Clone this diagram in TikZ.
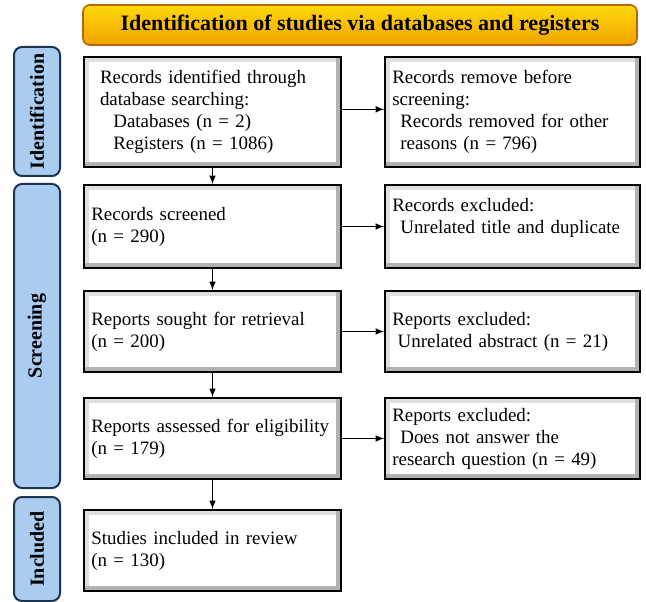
\documentclass[tikz,border=0pt]{standalone}
\usepackage{fontspec}
\setmainfont{Liberation Serif}
\usepackage{xcolor}
\usetikzlibrary{arrows}
\definecolor{barblue}{HTML}{A9CCF0}
\definecolor{barline}{HTML}{1E3550}
\definecolor{goldtop}{HTML}{FFD80A}
\definecolor{goldbot}{HTML}{F0A400}
\definecolor{goldline}{HTML}{B8650A}

\begin{document}
\begin{tikzpicture}[x=0.75pt,y=-0.75pt]
	\useasboundingbox (0,0) rectangle (646,602);
	\tikzstyle{every node}=[font=\fontsize{14.2}{16.5}\selectfont];
	\tikzstyle{box}=[draw=black,line width=1.2pt,fill=white,inner xsep=5.5pt,align=left,
		path picture={\draw[gray!25,line width=8pt] (path picture bounding box.south west)--(path picture bounding box.north west)--(path picture bounding box.north east);
			\draw[gray!60,line width=8pt] (path picture bounding box.north east)--(path picture bounding box.south east)--(path picture bounding box.south west);}];
	\tikzstyle{phase}=[draw=barline,line width=1.5pt,fill=barblue,rounded corners=6pt,rotate=90,minimum height=34.5pt,font=\fontsize{15}{16}\selectfont\bfseries];
	% title
	\node[draw=goldline,line width=1.2pt,rounded corners=5pt,top color=goldtop,bottom color=goldbot,minimum width=415.5pt,minimum height=30pt,font=\fontsize{16.5}{18}\selectfont\bfseries] (t) at (360,25) {Identification of studies via databases and registers};
	% phases
	\node[phase,minimum width=96.75pt] (p1) at (37,111.5) {Identification};
	\node[phase,minimum width=228pt] (p2) at (37,336) {Screening};
	\node[phase,minimum width=78pt] (p3) at (37,549) {Included};
	% left column
	\tikzstyle{every node}=[box,minimum width=192.75pt,text width=181.75pt,font=\fontsize{14.2}{16.5}\selectfont];
	\node[minimum height=82.5pt,inner xsep=12pt,text width=168.75pt] (l1) at (212.5,112) {Records identified through\\database searching:\\\hspace*{10pt}Databases (n = 2)\\\hspace*{10pt}Registers (n = 1086)};
	\node[minimum height=62.25pt] (l2) at (212.5,226.5) {Records screened\\(n = 290)};
	\node[minimum height=60.75pt] (l3) at (212.5,331.5) {Reports sought for retrieval\\(n = 200)};
	\node[minimum height=60.75pt] (l4) at (212.5,438.5) {Reports assessed for eligibility\\(n = 179)};
	\node[minimum height=60.75pt] (l5) at (212.5,550.5) {Studies included in review\\(n = 130)};
	% right column
	\tikzstyle{every node}=[box,minimum width=191.25pt,text width=180.25pt,font=\fontsize{14.2}{16.5}\selectfont];
	\node[minimum height=82.5pt] (r1) at (512.5,112) {Records remove before\\screening:\\\hspace*{6pt}Records removed for other\\\hspace*{6pt}reasons (n = 796)};
	\node[minimum height=62.25pt] (r2) at (512.5,226.5) {Records excluded:\\\hspace*{6pt}Unrelated title and duplicate\\~};
	\node[minimum height=60.75pt] (r3) at (512.5,331.5) {Reports excluded:\\\hspace*{4pt}Unrelated abstract (n = 21)};
	\node[minimum height=60.75pt] (r4) at (512.5,438.5) {Reports excluded:\\\hspace*{6pt}Does not answer the\\research question (n = 49)};
	% arrows
	\draw[-latex,line width=1.2pt] (l1)--(l2);
	\draw[-latex,line width=1.2pt] (l2)--(l3);
	\draw[-latex,line width=1.2pt] (l3)--(l4);
	\draw[-latex,line width=1.2pt] (l4)--(l5);
	\draw[-latex,line width=1.2pt] ([yshift=2pt]l1.east)--([yshift=2pt]r1.west);
	\draw[-latex,line width=1.2pt] (l2)--(r2);
	\draw[-latex,line width=1.2pt] (l3)--(r3);
	\draw[-latex,line width=1.2pt] (l4)--(r4);
\end{tikzpicture}
\end{document}
